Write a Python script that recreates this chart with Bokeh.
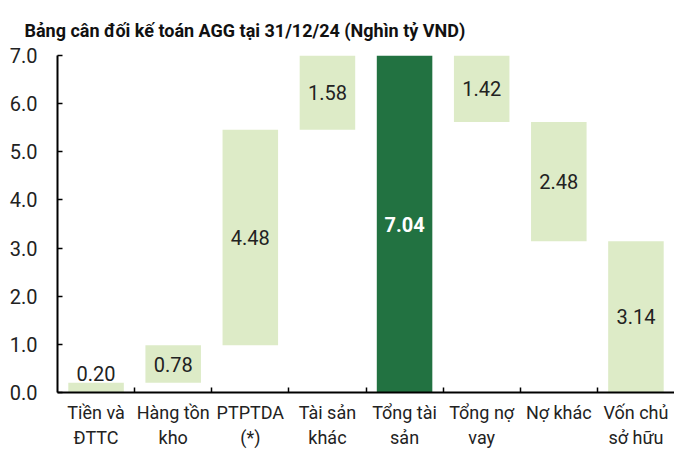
from bokeh.plotting import figure
from bokeh.models import Range1d, FixedTicker, ColumnDataSource, NumeralTickFormatter
from bokeh.core.properties import value
from bokeh.embed import file_html
from bokeh.resources import INLINE

title = "Bảng cân đối kế toán AGG tại 31/12/24 (Nghìn tỷ VND)"
categories = ["Tiền và\nĐTTC", "Hàng tồn\nkho", "PTPTDA\n(*)", "Tài sản\nkhác",
              "Tổng tài\nsản", "Tổng nợ\nvay", "Nợ khác", "Vốn chủ\nsở hữu"]
values = [0.20, 0.78, 4.48, 1.58, 7.04, 1.42, 2.48, 3.14]
kinds = ["up", "up", "up", "up", "total", "down", "down", "total"]
y_ticks = [0, 1, 2, 3, 4, 5, 6, 7]

Y_MAX = 7.0
LIGHT = "#DDEBC7"
DARK = "#227241"
FONT = "Roboto"

# waterfall bottoms/tops
bottoms, tops = [], []
level = 0.0
for v, k in zip(values, kinds):
    if k == "up":
        bottoms.append(level); tops.append(level + v); level += v
    elif k == "down":
        bottoms.append(level - v); tops.append(level); level -= v
    else:
        bottoms.append(0.0); tops.append(v); level = v

xs = [i + 0.5 for i in range(len(values))]
colors = [DARK if i == 4 else LIGHT for i in range(len(values))]
label_y, label_txt, label_col, label_style = [], [], [], []
for i, (b, t, v) in enumerate(zip(bottoms, tops, values)):
    vis_top = min(t, Y_MAX)
    if vis_top - b < 0.5:
        label_y.append(vis_top + 0.2)
    else:
        label_y.append((b + vis_top) / 2)
    label_txt.append(f"{v:.2f}")
    label_col.append("white" if i == 4 else "#222222")
    label_style.append("bold" if i == 4 else "normal")

src = ColumnDataSource(dict(x=xs, bottom=bottoms, top=tops, color=colors,
                            ly=label_y, lt=label_txt, lc=label_col, ls=label_style))

p = figure(width=674, height=450, output_backend="svg", toolbar_location=None,
           x_range=Range1d(0, len(values)), y_range=Range1d(0, Y_MAX),
           min_border_left=57, min_border_right=0, min_border_bottom=58, min_border_top=55)
p.title.text = title
p.title.text_font = FONT
p.title.text_font_size = "18px"
p.title.text_font_style = "bold"
p.title.text_color = "#111111"
p.title.offset = -33
p.title.standoff = 30
p.outline_line_color = None
p.grid.visible = False

p.vbar(x="x", bottom="bottom", top="top", width=0.72, fill_color="color",
       line_color=None, source=src)
p.text(x="x", y="ly", text="lt", text_color="lc", text_font_style="ls",
       text_align="center", text_baseline="middle", text_font=value(FONT),
       text_font_size="20px", source=src)

xa = p.xaxis[0]
xa.ticker = FixedTicker(ticks=xs, minor_ticks=list(range(1, len(values))))
xa.major_label_overrides = {x: c for x, c in zip(xs, categories)}
xa.major_tick_in = 0
xa.major_tick_out = 0
xa.minor_tick_in = 5
xa.minor_tick_out = 0
xa.minor_tick_line_color = "black"
xa.minor_tick_line_width = 1.5
xa.axis_line_color = "black"
xa.axis_line_width = 2
xa.major_label_text_font = FONT
xa.major_label_text_font_size = "18px"
xa.major_label_text_color = "#222222"
xa.major_label_standoff = 9

ya = p.yaxis[0]
ya.ticker = FixedTicker(ticks=y_ticks)
ya.formatter = NumeralTickFormatter(format="0.0")
ya.major_tick_in = 5
ya.major_tick_out = 0
ya.minor_tick_line_color = None
ya.major_tick_line_color = "black"
ya.major_tick_line_width = 1.5
ya.axis_line_color = "black"
ya.axis_line_width = 2
ya.major_label_text_font = FONT
ya.major_label_text_font_size = "20px"
ya.major_label_text_color = "#222222"
ya.major_label_standoff = 20

open("out.html", "w").write(file_html(p, INLINE))
